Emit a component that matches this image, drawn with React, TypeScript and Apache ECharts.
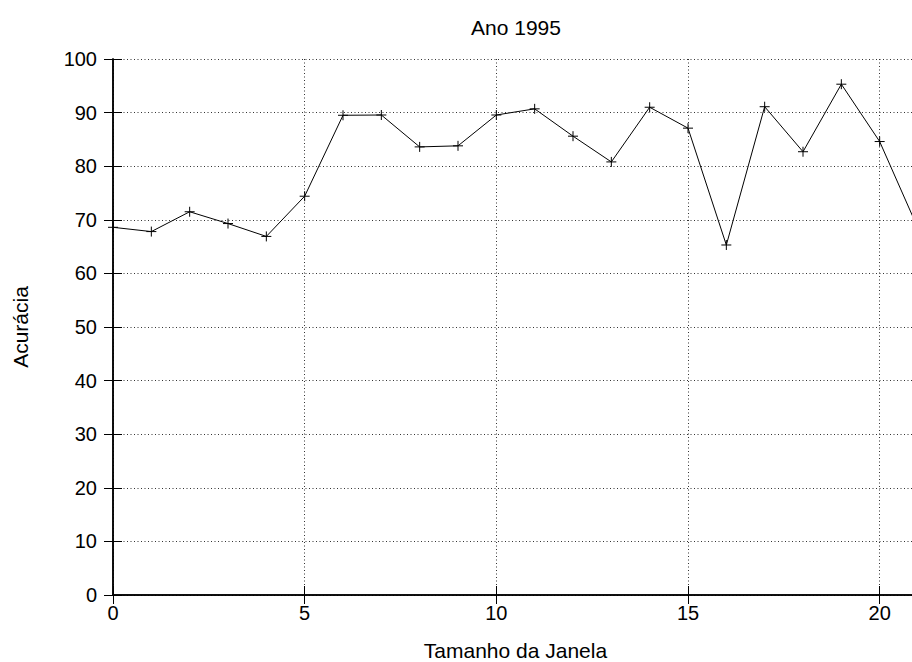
import React, { useEffect, useRef } from "react";
import * as echarts from "echarts";

const windowSizes = [0, 1, 2, 3, 4, 5, 6, 7, 8, 9, 10, 11, 12, 13, 14, 15, 16, 17, 18, 19, 20, 21];
const accuracy = [68.6, 67.8, 71.5, 69.3, 66.9, 74.4, 89.5, 89.55, 83.6, 83.8, 89.55, 90.7, 85.6, 80.8, 91.0, 87.1, 65.3, 91.1, 82.7, 95.3, 84.6, 68.4];
const titleText = "Ano 1995";
const xName = "Tamanho da Janela";
const yName = "Acurácia";

const FONT = "'Liberation Sans', Arial, Helvetica, sans-serif";

export default function App() {
  const ref = useRef<HTMLDivElement>(null);
  useEffect(() => {
    if (!ref.current) return;
    const chart = echarts.init(ref.current, null, { renderer: "svg" });
    const gridLine = { show: true, lineStyle: { color: "#333", width: 1, type: [1, 2.5] as any } };
    const axisLine = { show: true, lineStyle: { color: "#000", width: 1.5 } };
    const tick = { show: true, inside: true, length: 9, lineStyle: { color: "#000", width: 1 } };
    chart.setOption({
      animation: false,
      backgroundColor: "#fff",
      graphic: [
        {
          type: "text",
          x: 516,
          y: 27,
          style: {
            text: titleText,
            fontFamily: FONT,
            fontSize: 21,
            fill: "#000",
            align: "center",
            verticalAlign: "middle",
          },
        },
      ],
      grid: { left: 113, top: 59, bottom: 67, right: 12, containLabel: false, outerBoundsMode: "none" },
      xAxis: [
        {
          type: "value",
          min: 0,
          max: 21,
          interval: 5,
          position: "bottom",
          name: xName,
          nameLocation: "middle",
          nameGap: 45,
          nameTextStyle: { fontFamily: FONT, fontSize: 21, color: "#000" },
          axisLine,
          axisTick: tick,
          axisLabel: { show: true, showMaxLabel: false, margin: 8, fontFamily: FONT, fontSize: 20, color: "#000" },
          splitLine: gridLine,
        },
        {
          type: "value",
          min: 0,
          max: 21,
          interval: 5,
          position: "top",
          axisLine,
          axisTick: tick,
          axisLabel: { show: false },
          splitLine: { show: false },
        },
      ],
      yAxis: [
        {
          type: "value",
          min: 0,
          max: 100,
          interval: 10,
          position: "left",
          name: yName,
          nameLocation: "middle",
          nameGap: 82,
          nameRotate: 90,
          nameTextStyle: { fontFamily: FONT, fontSize: 21, color: "#000" },
          axisLine,
          axisTick: tick,
          axisLabel: { show: true, margin: 16, fontFamily: FONT, fontSize: 20, color: "#000" },
          splitLine: gridLine,
        },
        {
          type: "value",
          min: 0,
          max: 100,
          interval: 10,
          position: "right",
          axisLine,
          axisTick: tick,
          axisLabel: { show: false },
          splitLine: { show: false },
        },
      ],
      series: [
        {
          type: "line",
          xAxisIndex: 0,
          yAxisIndex: 0,
          data: windowSizes.map((x, i) => [x, accuracy[i]]),
          lineStyle: { color: "#000", width: 1 },
          symbol: "path://M0,5L10,5M5,0L5,10",
          symbolSize: 10,
          itemStyle: { color: "none", borderColor: "#000", borderWidth: 1 },
          clip: false,
        },
      ],
    });
    return () => chart.dispose();
  }, []);
  return (
    <div style={{ position: "fixed", left: 0, top: 0, width: 912, height: 662, overflow: "hidden", background: "#fff" }}>
      <div ref={ref} style={{ width: 930, height: 662 }} />
    </div>
  );
}
